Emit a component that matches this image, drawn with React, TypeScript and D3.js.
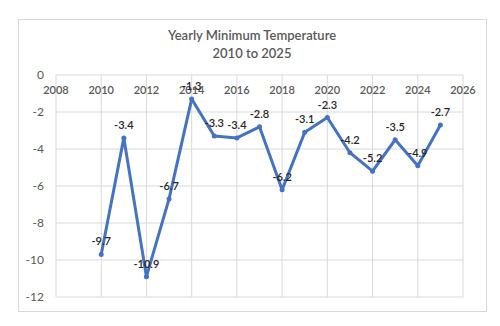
import React from "react";
import * as d3 from "d3";

const years = [2010, 2011, 2012, 2013, 2014, 2015, 2016, 2017, 2018, 2019, 2020, 2021, 2022, 2023, 2024, 2025];
const temps = [-9.7, -3.4, -10.9, -6.7, -1.3, -3.3, -3.4, -2.8, -6.2, -3.1, -2.3, -4.2, -5.2, -3.5, -4.9, -2.7];
const xTicks = [2008, 2010, 2012, 2014, 2016, 2018, 2020, 2022, 2024, 2026];
const yTicks = [0, -2, -4, -6, -8, -10, -12];
const titleLines = ["Yearly Minimum Temperature", "2010 to 2025"];

const W = 500, H = 326;
const FONT = "Lato, 'Open Sans', sans-serif";

export default function App() {
  const x = d3.scaleLinear().domain([2008, 2026]).range([56, 463]);
  const y = d3.scaleLinear().domain([0, -12]).range([75, 297]);
  const line = d3.line<number>().x((_, i) => x(years[i])).y((d) => y(d));
  return (
    <svg width={W} height={H} style={{ position: "absolute", left: 0, top: 0 }}>
      <rect x={0} y={0} width={W} height={H} fill="#fff" />
      <rect x={18.5} y={19.5} width={468} height={292} fill="#fff" stroke="#d9d9d9" />
      {titleLines.map((t, i) => (
        <text key={t} x={252} y={40 + i * 18} textAnchor="middle" fontFamily={FONT} fontSize={13} fontWeight={600} fill="#595959">{t}</text>
      ))}
      {yTicks.map((t) => (
        <line key={"gy" + t} x1={56} x2={463} y1={y(t)} y2={y(t)} stroke="#d9d9d9" strokeWidth={1} />
      ))}
      {xTicks.map((t) => (
        <line key={"gx" + t} x1={x(t)} x2={x(t)} y1={75} y2={297} stroke="#d9d9d9" strokeWidth={1} />
      ))}
      {yTicks.map((t) => (
        <text key={"ty" + t} x={44} y={y(t) + 4} textAnchor="end" fontFamily={FONT} fontSize={12} fill="#595959">{t}</text>
      ))}
      {xTicks.map((t) => (
        <text key={"tx" + t} x={x(t)} y={94} textAnchor="middle" fontFamily={FONT} fontSize={11} fontWeight={600} fill="#595959">{t}</text>
      ))}
      <path d={line(temps) || ""} fill="none" stroke="#4472C4" strokeWidth={3} strokeLinejoin="round" />
      {temps.map((v, i) => (
        <circle key={"c" + i} cx={x(years[i])} cy={y(v)} r={2.5} fill="#4472C4" />
      ))}
      {temps.map((v, i) => (
        <text key={"l" + i} x={x(years[i])} y={y(v) - 9} textAnchor="middle" fontFamily={FONT} fontSize={11} fontWeight={600} fill="#262626">{v}</text>
      ))}
    </svg>
  );
}
